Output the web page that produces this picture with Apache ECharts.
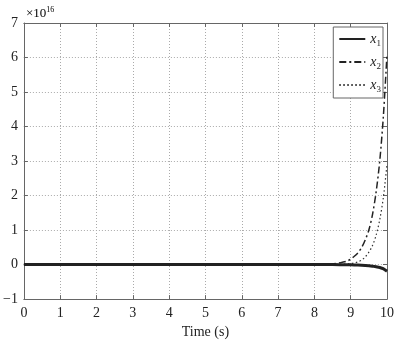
<!DOCTYPE html>
<html>
<head>
<meta charset="utf-8">
<script src="https://cdn.jsdelivr.net/npm/echarts@6/dist/echarts.min.js"></script>
<style>html,body{margin:0;padding:0;background:#fff}#c{width:409px;height:344px}</style>
</head>
<body>
<div id="c"></div>
<script>
// state trajectories, values in units of 1e16
const time = [0, 1, 2, 3, 4, 5, 6, 7, 8, 8.3, 8.5, 8.7, 8.9, 9.0, 9.1, 9.2, 9.3, 9.4, 9.5, 9.6, 9.7, 9.8, 9.9, 10];
const x1 = [0, 0, 0, 0, 0, 0, 0, 0, 0, 0, 0, -0.003, -0.006, -0.008, -0.01, -0.014, -0.018, -0.024, -0.032, -0.045, -0.062, -0.085, -0.12, -0.19];
const x2 = [0, 0, 0, 0, 0, 0, 0, 0, 0, 0.005, 0.02, 0.05, 0.1, 0.16, 0.24, 0.34, 0.49, 0.71, 1.0, 1.45, 2.1, 3.0, 4.3, 6.1];
const x3 = [0, 0, 0, 0, 0, 0, 0, 0, 0, 0, 0.005, 0.01, 0.02, 0.03, 0.05, 0.08, 0.13, 0.22, 0.36, 0.55, 0.85, 1.3, 1.95, 2.9];
const xTicks = [0, 1, 2, 3, 4, 5, 6, 7, 8, 9, 10];
const yTicks = [-1, 0, 1, 2, 3, 4, 5, 6, 7];

const font = 'Liberation Serif';
const frame = '#666';
const pair = (ys) => time.map((t, i) => [t, ys[i]]);

const chart = echarts.init(document.getElementById('c'), null, { renderer: 'canvas' });
const baseAxis = {
  axisLine: { show: true, onZero: false, lineStyle: { color: frame, width: 1 } },
  axisTick: { show: true, inside: true, length: 4, lineStyle: { color: frame } },
};
chart.setOption({
  animation: false,
  grid: { left: 23, right: 22, top: 23, bottom: 44 },
  textStyle: { fontFamily: font },
  xAxis: [
    Object.assign({}, baseAxis, {
      type: 'value', min: 0, max: 10, interval: 1, position: 'bottom',
      name: 'Time (s)', nameLocation: 'middle', nameGap: 23,
      nameTextStyle: { fontFamily: font, fontSize: 14, color: '#222' },
      axisLabel: { fontFamily: font, fontSize: 14, color: '#222', margin: 7,
        formatter: v => xTicks.includes(v) ? String(v) : '' },
      splitLine: { show: true, lineStyle: { color: '#aaa', type: [1, 2], width: 1 } }
    }),
    Object.assign({}, baseAxis, {
      type: 'value', min: 0, max: 10, interval: 1, position: 'top',
      axisLabel: { show: false }, splitLine: { show: false }
    })
  ],
  yAxis: [
    Object.assign({}, baseAxis, {
      type: 'value', min: -1, max: 7, interval: 1, position: 'left',
      axisLabel: { fontFamily: font, fontSize: 14, color: '#222', margin: 6,
        formatter: v => yTicks.includes(v) ? (v < 0 ? '\u2212' + Math.abs(v) : String(v)) : '' },
      splitLine: { show: true, lineStyle: { color: '#aaa', type: [1, 2], width: 1 } }
    }),
    Object.assign({}, baseAxis, {
      type: 'value', min: -1, max: 7, interval: 1, position: 'right',
      axisLabel: { show: false }, splitLine: { show: false }
    })
  ],
  legend: {
    orient: 'vertical', right: 26, top: 27,
    itemWidth: 26, itemHeight: 10, itemGap: 7,
    backgroundColor: '#fff', borderColor: frame, borderWidth: 1,
    padding: [5, 2, 4, 5],
    data: ['x1', 'x2', 'x3'],
    itemStyle: { opacity: 0 },
    formatter: name => '{v|x}{s|' + name.slice(1) + '}',
    textStyle: {
      rich: {
        v: { fontFamily: font, fontStyle: 'italic', fontSize: 14, color: '#222' },
        s: { fontFamily: font, fontSize: 9, color: '#222', padding: [9, 0, 0, 0] }
      }
    }
  },
  graphic: [{
    type: 'text', left: 26, top: 6,
    style: {
      text: '{a|\u00d710}{b|16}',
      rich: {
        a: { fontFamily: font, fontSize: 13, color: '#222' },
        b: { fontFamily: font, fontSize: 8, color: '#222', padding: [0, 0, 7, 0] }
      }
    }
  }],
  series: [
    { name: 'x1', type: 'line', data: pair(x1), showSymbol: false, symbol: 'none', z: 3,
      lineStyle: { color: '#222', width: 3, type: 'solid' }, itemStyle: { color: '#222' } },
    { name: 'x2', type: 'line', data: pair(x2), showSymbol: false, symbol: 'none', smooth: 0.3, z: 2,
      lineStyle: { color: '#222', width: 1.5, type: [7, 3, 2, 3] }, itemStyle: { color: '#222' } },
    { name: 'x3', type: 'line', data: pair(x3), showSymbol: false, symbol: 'none', smooth: 0.3, z: 2,
      lineStyle: { color: '#333', width: 1.2, type: [1.5, 2.5] }, itemStyle: { color: '#333' } }
  ]
});
</script>
</body>
</html>
